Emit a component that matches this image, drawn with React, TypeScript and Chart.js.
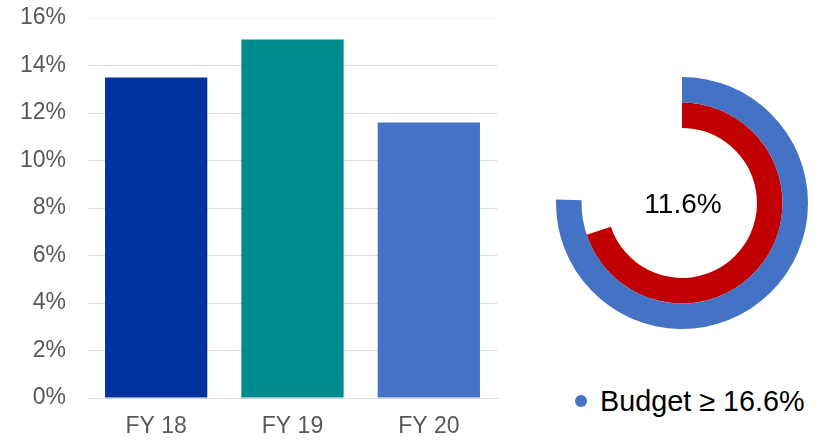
import React, { useEffect, useRef } from "react";
import { Chart, registerables } from "chart.js";

Chart.register(...registerables);

const categories = ["FY 18", "FY 19", "FY 20"];
const values = [13.5, 15.1, 11.6];
const barColors = ["#0033A0", "#008C8F", "#4472C4"];
const yMin = 0;
const yMax = 16;
const yStep = 2;

const outerRing = [16.6, 5.4]; // budget ring (value, remainder)
const innerRing = [11.6, 5.0]; // actual ring (value, remainder)
const outerColors = ["#4472C4", "rgba(0,0,0,0)"];
const innerColors = ["#C00000", "rgba(0,0,0,0)"];
const centerLabel = "11.6%";
const legendLabel = "Budget \u2265 16.6%";

const FONT = "'Liberation Sans', Arial, sans-serif";

function BarPanel() {
  const ref = useRef<HTMLCanvasElement | null>(null);
  useEffect(() => {
    if (!ref.current) return;
    const chart = new Chart(ref.current, {
      type: "bar",
      data: {
        labels: categories,
        datasets: [
          {
            data: values,
            backgroundColor: barColors,
            borderWidth: 0,
            categoryPercentage: 1,
            barPercentage: 0.75,
          },
        ],
      },
      options: {
        responsive: false,
        animation: false,
        events: [],
        layout: { padding: { top: 18, right: 13, left: 0, bottom: 0 } },
        plugins: { legend: { display: false }, tooltip: { enabled: false } },
        scales: {
          x: {
            grid: { display: false, drawTicks: false },
            border: { display: true, color: "#d9d9d9", width: 1 },
            ticks: {
              color: "#595959",
              font: { family: FONT, size: 23 },
              padding: 15,
            },
            afterFit: (s: any) => {
              s.height = 42;
              s.paddingLeft = 0;
              s.paddingRight = 0;
            },
          },
          y: {
            min: yMin,
            max: yMax,
            grid: {
              drawTicks: false,
              color: (c: any) => (c.tick && c.tick.value === yMax ? "#efefef" : "#d9d9d9"),
              lineWidth: 1,
            },
            border: { display: false },
            ticks: {
              stepSize: yStep,
              color: "#595959",
              font: { family: FONT, size: 23 },
              padding: 22,
              callback: (v: any) => `${v}%`,
            },
            afterFit: (s: any) => {
              s.width = 88;
              s.paddingTop = 0;
              s.paddingBottom = 0;
            },
          },
        },
      },
    });
    return () => chart.destroy();
  }, []);
  return <canvas ref={ref} width={510} height={440} style={{ position: "absolute", left: 0, top: 0 }} />;
}

function DonutPanel() {
  const ref = useRef<HTMLCanvasElement | null>(null);
  useEffect(() => {
    if (!ref.current) return;
    const centerText = {
      id: "centerText",
      afterDraw(chart: any) {
        const { ctx, chartArea } = chart;
        const cx = (chartArea.left + chartArea.right) / 2;
        const cy = (chartArea.top + chartArea.bottom) / 2;
        ctx.save();
        ctx.font = `28px ${FONT}`;
        ctx.fillStyle = "#000000";
        ctx.textAlign = "center";
        ctx.textBaseline = "middle";
        ctx.fillText(centerLabel, cx + 1, cy + 2);
        ctx.restore();
      },
    };
    const chart = new Chart(ref.current, {
      type: "doughnut",
      data: {
        labels: ["value", "rest"],
        datasets: [
          { data: outerRing, backgroundColor: outerColors, borderWidth: 0, hoverBorderWidth: 0, hoverOffset: 0 },
          { data: innerRing, backgroundColor: innerColors, borderWidth: 0, hoverBorderWidth: 0, hoverOffset: 0 },
        ],
      },
      options: {
        responsive: false,
        animation: false,
        events: [],
        cutout: "59.5%",
        layout: { padding: 0 },
        plugins: { legend: { display: false }, tooltip: { enabled: false } },
      },
      plugins: [centerText],
    });
    return () => chart.destroy();
  }, []);
  return <canvas ref={ref} width={252} height={252} style={{ position: "absolute", left: 556, top: 77 }} />;
}

export default function App() {
  return (
    <div style={{ position: "fixed", left: 0, top: 0, width: 831, height: 440, background: "#ffffff", overflow: "hidden" }}>
      <BarPanel />
      <DonutPanel />
      <div
        style={{
          position: "absolute",
          left: 575,
          top: 384,
          height: 34,
          display: "flex",
          alignItems: "center",
          fontFamily: FONT,
          fontSize: 28.8,
          color: "#000000",
          whiteSpace: "nowrap",
        }}
      >
        <span
          style={{
            display: "inline-block",
            width: 12,
            height: 12,
            borderRadius: "50%",
            background: "#4472C4",
            marginRight: 13,
          }}
        />
        <span>{legendLabel}</span>
      </div>
    </div>
  );
}
